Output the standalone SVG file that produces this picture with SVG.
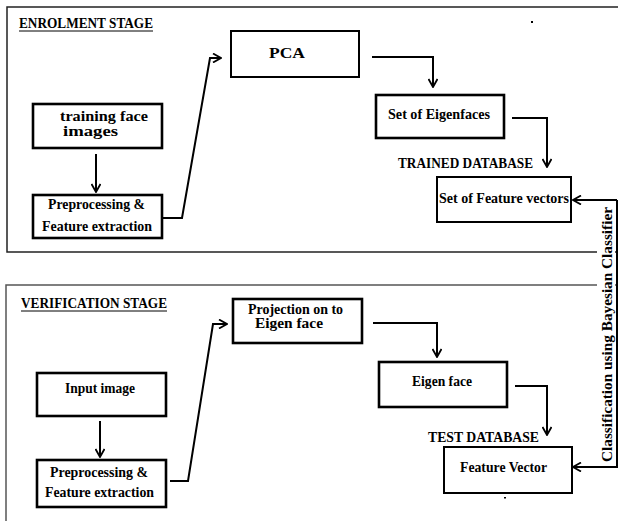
<svg xmlns="http://www.w3.org/2000/svg" width="618" height="521" viewBox="0 0 618 521">
<defs>
<marker id="arr" viewBox="0 0 10 10" refX="9" refY="5" markerWidth="10" markerHeight="10" markerUnits="userSpaceOnUse" orient="auto">
<path d="M1,0.5 L9,5 L1,9.5" fill="none" stroke="#000" stroke-width="1.8"/>
</marker>
</defs>
<style>
.frame{fill:none;stroke:#222;stroke-width:1.5}
.frame2{stroke:#555}
.box{fill:#fff;stroke:#000;stroke-width:2.6}
.thin{stroke-width:2}
.t{font-family:"Liberation Serif","Times New Roman",serif;font-weight:bold;font-size:14px;fill:#000}
.c{fill:none;stroke:#000;stroke-width:2;marker-end:url(#arr)}
.ul{stroke:#000;stroke-width:1}
</style>
<rect width="618" height="521" fill="#fff"/>
<g id="frames">
<path class="frame" d="M618,7 H7 V252 H597 M615,252 H618"/>
<path class="frame frame2" d="M597,285 H6 V521 M615,285 H618"/>
</g>
<g id="headers">
<text class="t" x="19" y="28" textLength="134" lengthAdjust="spacingAndGlyphs">ENROLMENT STAGE</text>
<line class="ul" x1="19" y1="31" x2="153" y2="31"/>
<text class="t" x="21" y="308" textLength="146" lengthAdjust="spacingAndGlyphs">VERIFICATION STAGE</text>
<line class="ul" x1="21" y1="311" x2="167" y2="311"/>
</g>
<g id="connectors">
<path class="c" d="M96,154 V192"/>
<path class="c" d="M162,218 H182 L210,58 H221"/>
<path class="c" d="M372,57 H433 V87"/>
<path class="c" d="M512,118 H547 V167"/>
<path class="c" d="M100,421 V457"/>
<path class="c" d="M170,481 H188 L213,324 H227"/>
<path class="c" d="M373,323 H437 V357"/>
<path class="c" d="M515,386 H547 V435"/>
<path class="c" d="M617,200 H573"/>
<path class="c" d="M617,200 V467 H573"/>
</g>
<g id="pca"><rect class="box thin" x="231" y="31" width="128" height="46"/>
<text class="t" x="269" y="58" textLength="36" lengthAdjust="spacingAndGlyphs">PCA</text></g>
<g id="training"><rect class="box" x="33" y="104" width="129" height="44"/>
<text class="t" x="60" y="121" textLength="88" lengthAdjust="spacingAndGlyphs">training face</text>
<text class="t" x="63" y="136" textLength="55" lengthAdjust="spacingAndGlyphs">images</text></g>
<g id="preproc1"><rect class="box" x="33" y="195" width="129" height="43"/>
<text class="t" x="48" y="209" textLength="97" lengthAdjust="spacingAndGlyphs">Preprocessing &amp;</text>
<text class="t" x="42" y="231" textLength="110" lengthAdjust="spacingAndGlyphs">Feature extraction</text></g>
<g id="eigenfaces"><rect class="box" x="376" y="95" width="128" height="43"/>
<text class="t" x="388" y="119" textLength="102" lengthAdjust="spacingAndGlyphs">Set of Eigenfaces</text></g>
<g id="trained"><text class="t" x="398" y="168" textLength="135" lengthAdjust="spacingAndGlyphs">TRAINED DATABASE</text>
<rect class="box thin" x="437" y="177" width="134" height="45"/>
<text class="t" x="439" y="203" textLength="130" lengthAdjust="spacingAndGlyphs">Set of Feature vectors</text></g>
<g id="projection"><rect class="box" x="233" y="299" width="129" height="44"/>
<text class="t" x="248" y="314" textLength="95" lengthAdjust="spacingAndGlyphs">Projection on to</text>
<text class="t" x="255" y="328" textLength="68" lengthAdjust="spacingAndGlyphs">Eigen face</text></g>
<g id="input"><rect class="box" x="37" y="373" width="129" height="43"/>
<text class="t" x="65" y="393" textLength="70" lengthAdjust="spacingAndGlyphs">Input image</text></g>
<g id="preproc2"><rect class="box" x="37" y="460" width="129" height="47"/>
<text class="t" x="50" y="477" textLength="98" lengthAdjust="spacingAndGlyphs">Preprocessing &amp;</text>
<text class="t" x="45" y="497" textLength="109" lengthAdjust="spacingAndGlyphs">Feature extraction</text></g>
<g id="eigenface"><rect class="box" x="379" y="362" width="128" height="45"/>
<text class="t" x="412" y="386" textLength="60" lengthAdjust="spacingAndGlyphs">Eigen face</text></g>
<g id="test"><text class="t" x="428" y="442" textLength="111" lengthAdjust="spacingAndGlyphs">TEST DATABASE</text>
<rect class="box thin" x="444" y="447" width="128" height="46"/>
<text class="t" x="460" y="472" textLength="87" lengthAdjust="spacingAndGlyphs">Feature Vector</text></g>
<g id="classifier">
<text class="t" transform="translate(612,462) rotate(-90)" x="0" y="0" textLength="255" lengthAdjust="spacingAndGlyphs" style="font-size:15px">Classification using Bayesian Classifier</text>
</g>
<g id="marks">
<rect x="531" y="21" width="2" height="2" fill="#000"/>
<rect x="504" y="497" width="2" height="1.5" fill="#000"/>
</g>
</svg>
